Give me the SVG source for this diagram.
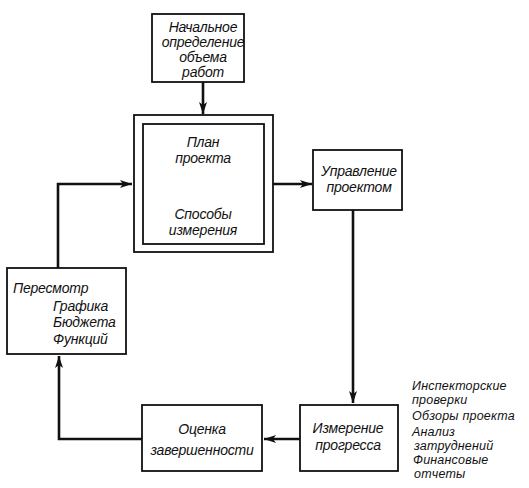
<svg xmlns="http://www.w3.org/2000/svg" width="529" height="488" viewBox="0 0 529 488">
<style>
.box{fill:#fff;stroke:#111;stroke-width:1.8}
.t{font-family:"Liberation Sans",Arial,sans-serif;font-style:italic;font-size:14px;letter-spacing:-0.2px;fill:#111}
.s{font-size:12.5px;letter-spacing:0.2px}
.c{text-anchor:middle}
.con{fill:none;stroke:#111;stroke-width:2.6}
</style>
<defs>
<marker id="ah" viewBox="0 0 12 8" refX="12" refY="4" markerWidth="12" markerHeight="8" markerUnits="userSpaceOnUse" orient="auto">
<path d="M0,0 L12,4 L0,8 L3,4 Z" fill="#111"/>
</marker>
</defs>
<rect width="529" height="488" fill="#fff"/>
<g id="connectors">
<line class="con" x1="203" y1="82" x2="203" y2="114" marker-end="url(#ah)"/>
<line class="con" x1="273" y1="184" x2="312" y2="184" marker-end="url(#ah)"/>
<line class="con" x1="353" y1="210" x2="353" y2="403" marker-end="url(#ah)"/>
<line class="con" x1="300" y1="439" x2="264" y2="439" marker-end="url(#ah)"/>
<polyline class="con" points="142,439 59,439 59,356" marker-end="url(#ah)"/>
<polyline class="con" points="58,268 58,184 132,184" marker-end="url(#ah)"/>
</g>
<g id="n-start">
<rect class="box" x="152" y="14" width="92" height="68"/>
<text class="t c" x="203" y="32">Начальное</text>
<text class="t c" x="203" y="47">определение</text>
<text class="t c" x="203" y="62">объема</text>
<text class="t c" x="203" y="77">работ</text>
</g>
<g id="n-plan">
<rect class="box" x="134" y="115" width="139" height="137"/>
<rect class="box" x="143" y="124" width="121" height="120"/>
<text class="t c" x="203" y="147">План</text>
<text class="t c" x="203" y="163">проекта</text>
<text class="t c" x="203" y="219">Способы</text>
<text class="t c" x="203" y="235">измерения</text>
</g>
<g id="n-manage">
<rect class="box" x="313" y="150" width="89" height="60"/>
<text class="t c" x="359" y="176">Управление</text>
<text class="t c" x="359" y="192">проектом</text>
</g>
<g id="n-measure">
<rect class="box" x="300" y="405" width="98" height="66"/>
<text class="t c" x="348" y="433">Измерение</text>
<text class="t c" x="348" y="450">прогресса</text>
</g>
<g id="n-notes">
<text class="t s" x="412" y="390">Инспекторские</text>
<text class="t s" x="412" y="404">проверки</text>
<text class="t s" x="412" y="420">Обзоры проекта</text>
<text class="t s" x="412" y="436">Анализ</text>
<text class="t s" x="414" y="450">затруднений</text>
<text class="t s" x="413" y="464">Финансовые</text>
<text class="t s" x="414" y="478">отчеты</text>
</g>
<g id="n-eval">
<rect class="box" x="142" y="405" width="120" height="66"/>
<text class="t c" x="202" y="434">Оценка</text>
<text class="t c" x="202" y="455">завершенности</text>
</g>
<g id="n-review">
<rect class="box" x="7" y="268" width="119" height="86"/>
<text class="t" x="13" y="293">Пересмотр</text>
<text class="t" x="53" y="311">Графика</text>
<text class="t" x="53" y="327">Бюджета</text>
<text class="t" x="53" y="344">Функций</text>
</g>
</svg>
